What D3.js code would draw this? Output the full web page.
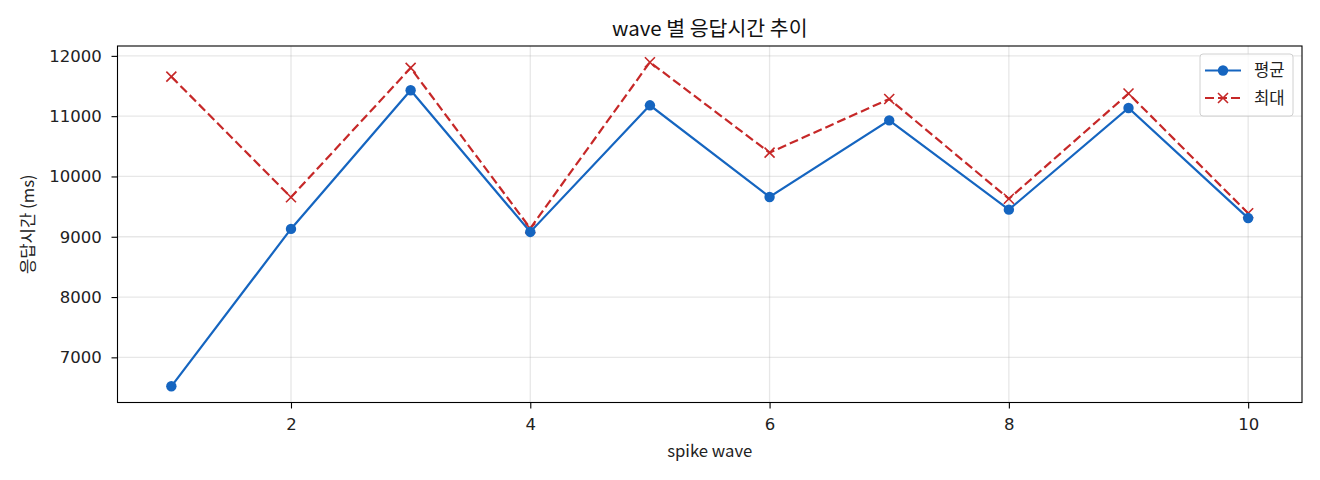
<!DOCTYPE html>
<html>
<head>
<meta charset="utf-8">
<script src="https://cdn.jsdelivr.net/npm/d3@7/dist/d3.min.js"></script>
<style>
  html, body { margin: 0; padding: 0; background: #fff; }
  svg { display: block; font-family: "Noto Sans CJK KR", "Noto Sans", sans-serif; }
  .tick text { font-family: "DejaVu Sans", sans-serif; }
</style>
</head>
<body>
<svg id="chart" width="1320" height="480"></svg>
<script>
const waves = [1, 2, 3, 4, 5, 6, 7, 8, 9, 10];
const avgValues = [6520, 9130, 11430, 9080, 11180, 9660, 10930, 9450, 11135, 9310];
const maxValues = [11655, 9655, 11800, 9140, 11895, 10395, 11285, 9630, 11375, 9390];
const xTicks = [2, 4, 6, 8, 10];
const yTicks = [7000, 8000, 9000, 10000, 11000, 12000];
const seriesNames = ["평균", "최대"];
const titleText = "wave 별 응답시간 추이";
const xLabel = "spike wave";
const yLabel = "응답시간 (ms)";

const blue = "#1565C0", red = "#C62828";
const svg = d3.select("#chart");
const L = 117.5, R = 1302, T = 46, B = 402.5;

const all = avgValues.concat(maxValues);
const ymin = d3.min(all), ymax = d3.max(all);
const ypad = (ymax - ymin) * 0.05;
const x = d3.scaleLinear().domain([1 - 0.45, 10 + 0.45]).range([L, R]);
const y = d3.scaleLinear().domain([ymin - ypad, ymax + ypad]).range([B, T]);

// grid
const g = svg.append("g");
g.selectAll(".gx").data(xTicks).enter().append("line")
  .attr("x1", d => x(d)).attr("x2", d => x(d)).attr("y1", T).attr("y2", B)
  .attr("stroke", "#b0b0b0").attr("stroke-opacity", 0.3).attr("stroke-width", 1.3);
g.selectAll(".gy").data(yTicks).enter().append("line")
  .attr("x1", L).attr("x2", R).attr("y1", d => y(d)).attr("y2", d => y(d))
  .attr("stroke", "#b0b0b0").attr("stroke-opacity", 0.3).attr("stroke-width", 1.3);

// axes
const xAxis = d3.axisBottom(x).tickValues(xTicks).tickSize(6).tickPadding(9.5).tickFormat(d3.format("d"));
const yAxis = d3.axisLeft(y).tickValues(yTicks).tickSize(6).tickPadding(9.8).tickFormat(d3.format("d"));
const gx = svg.append("g").attr("transform", `translate(0,${B})`).call(xAxis);
const gy = svg.append("g").attr("transform", `translate(${L},0)`).call(yAxis);
[gx, gy].forEach(a => {
  a.select(".domain").remove();
  a.selectAll(".tick line").attr("stroke", "#000").attr("stroke-width", 1.1);
  a.selectAll(".tick text").attr("fill", "#222").style("font-size", "16.5px");
});

// frame
svg.append("rect").attr("x", L).attr("y", T).attr("width", R - L).attr("height", B - T)
  .attr("fill", "none").attr("stroke", "#000").attr("stroke-width", 1.1);

const line = d3.line().x((d, i) => x(waves[i])).y(d => y(d));

// max series
svg.append("path").datum(maxValues).attr("d", line)
  .attr("fill", "none").attr("stroke", red).attr("stroke-width", 2.2)
  .attr("stroke-dasharray", "9,4");
const xm = 5;
const crossG = svg.append("g");
maxValues.forEach((v, i) => {
  const cx = x(waves[i]), cy = y(v);
  crossG.append("path")
    .attr("d", `M${cx - xm},${cy - xm}L${cx + xm},${cy + xm}M${cx - xm},${cy + xm}L${cx + xm},${cy - xm}`)
    .attr("stroke", red).attr("stroke-width", 1.6).attr("fill", "none");
});

// avg series
svg.append("path").datum(avgValues).attr("d", line)
  .attr("fill", "none").attr("stroke", blue).attr("stroke-width", 2.2);
svg.append("g").selectAll("circle").data(avgValues).enter().append("circle")
  .attr("cx", (d, i) => x(waves[i])).attr("cy", d => y(d)).attr("r", 5.2)
  .attr("fill", blue);

// title & labels
svg.append("text").attr("x", (L + R) / 2).attr("y", 36).attr("text-anchor", "middle")
  .style("font-size", "20.5px").attr("fill", "#111").text(titleText);
svg.append("text").attr("x", (L + R) / 2).attr("y", 457).attr("text-anchor", "middle")
  .style("font-size", "16.7px").attr("fill", "#222").text(xLabel);
svg.append("text").attr("transform", `translate(34,${(T + B) / 2}) rotate(-90)`)
  .attr("text-anchor", "middle").style("font-size", "16.7px").attr("fill", "#222").text(yLabel);

// legend
const lg = svg.append("g");
lg.append("rect").attr("x", 1200).attr("y", 54).attr("width", 93).attr("height", 62)
  .attr("rx", 3).attr("fill", "#fff").attr("fill-opacity", 0.8)
  .attr("stroke", "#d0d0d0").attr("stroke-width", 1);
const ly1 = 70.5, ly2 = 98;
lg.append("line").attr("x1", 1205).attr("x2", 1241).attr("y1", ly1).attr("y2", ly1)
  .attr("stroke", blue).attr("stroke-width", 2.2);
lg.append("circle").attr("cx", 1223).attr("cy", ly1).attr("r", 5.2).attr("fill", blue);
lg.append("line").attr("x1", 1205).attr("x2", 1241).attr("y1", ly2).attr("y2", ly2)
  .attr("stroke", red).attr("stroke-width", 2.2).attr("stroke-dasharray", "9,4").attr("stroke-dashoffset", 0);
lg.append("path")
  .attr("d", `M${1223 - xm},${ly2 - xm}L${1223 + xm},${ly2 + xm}M${1223 - xm},${ly2 + xm}L${1223 + xm},${ly2 - xm}`)
  .attr("stroke", red).attr("stroke-width", 1.6);
lg.append("text").attr("x", 1254).attr("y", ly1).attr("dy", "0.35em")
  .style("font-size", "16.7px").attr("fill", "#222").text(seriesNames[0]);
lg.append("text").attr("x", 1254).attr("y", ly2).attr("dy", "0.35em")
  .style("font-size", "16.7px").attr("fill", "#222").text(seriesNames[1]);
</script>
</body>
</html>
